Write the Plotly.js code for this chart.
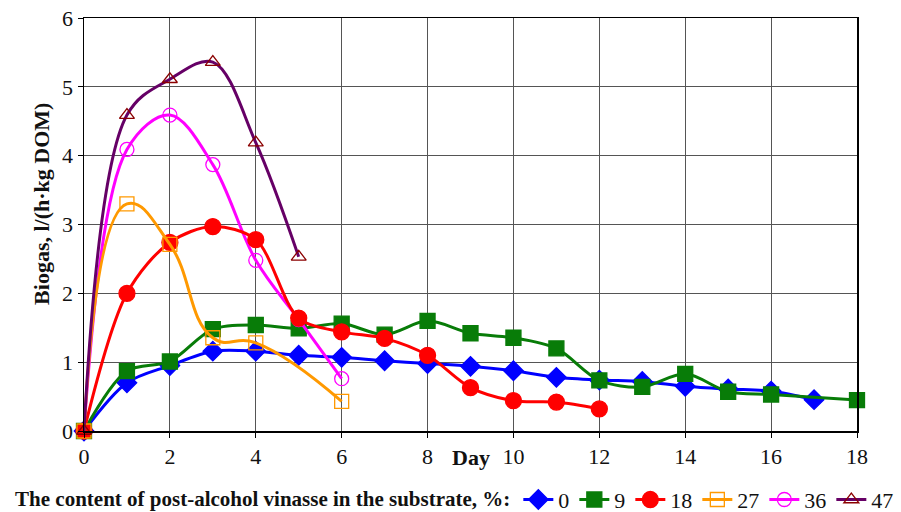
<!DOCTYPE html>
<html>
<head>
<meta charset="utf-8">
<script src="https://cdn.plot.ly/plotly-3.0.1.min.js"></script>
<style>html,body{margin:0;padding:0;background:#fff;}#chart{width:901px;height:512px;}</style>
</head>
<body>
<div id="chart"></div>
<script>
// Data
const days0  = [0,1,2,3,4,5,6,7,8,9,10,11,12,13,14,15,16,17];
const vals0  = [0,0.70,0.95,1.16,1.16,1.10,1.07,1.02,0.98,0.94,0.875,0.78,0.74,0.72,0.65,0.61,0.58,0.455];
const days9  = [0,1,2,3,4,5,6,7,8,9,10,11,12,13,14,15,16,18];
const vals9  = [0,0.87,1.01,1.48,1.54,1.49,1.56,1.40,1.60,1.42,1.355,1.20,0.735,0.64,0.83,0.57,0.53,0.45];
const days18 = [0,1,2,3,4,5,6,7,8,9,10,11,12];
const vals18 = [0,2.0,2.74,2.97,2.78,1.64,1.44,1.345,1.10,0.63,0.44,0.42,0.32];
const days27 = [0,1,2,3,4,6];
const vals27 = [0,3.30,2.71,1.355,1.28,0.43];
const days36 = [0,1,2,3,4,5,6];
const vals36 = [0,4.09,4.59,3.87,2.48,1.62,0.76];
const days47 = [0,1,2,3,4,5];
const vals47 = [0,4.59,5.11,5.36,4.19,2.53];
const seriesNames = ['0','9','18','27','36','47'];
const xTicks = [0,2,4,6,8,10,12,14,16,18];
const yTicks = [0,1,2,3,4,5,6];

const FONT = 'Liberation Serif, Times New Roman, serif';

function tr(x, y, name, rank, color, sym, size, mcolor, smooth) {
  return {
    x: x, y: y, name: name, legendrank: rank, type: 'scatter', mode: 'lines+markers',
    line: {color: color, width: 3, shape: 'spline', smoothing: smooth},
    marker: {symbol: sym, size: size, color: mcolor, line: {color: mcolor, width: 1.3}},
    cliponaxis: false
  };
}

// drawing order: magenta under red, orange over red, purple on top
const data = [
  tr(days0, vals0, seriesNames[0], 1, '#0000FF', 'diamond', 15, '#0000FF', 0.9),
  tr(days9, vals9, seriesNames[1], 2, '#087C08', 'square', 15, '#087C08', 0.9),
  tr(days36, vals36, seriesNames[4], 5, '#FF00FF', 'circle-open', 14, '#FF00FF', 1.0),
  tr(days18, vals18, seriesNames[2], 3, '#FF0000', 'circle', 16, '#FF0000', 0.9),
  tr(days27, vals27, seriesNames[3], 4, '#FF9900', 'square-open', 14, '#FF9900', 1.3),
  tr(days47, vals47, seriesNames[5], 6, '#660066', 'triangle-up-open', 13, '#8B0000', 1.0)
];

const layout = {
  width: 901, height: 512,
  margin: {l: 84, r: 44, t: 18, b: 81},
  paper_bgcolor: '#fff', plot_bgcolor: '#fff',
  font: {family: FONT, size: 22, color: '#111'},
  showlegend: true,
  xaxis: {
    range: [0, 18], tickvals: xTicks, ticktext: xTicks.map(String),
    showgrid: true, gridcolor: '#555', gridwidth: 1,
    showline: true, linecolor: '#000', linewidth: 1.5, mirror: true,
    ticks: 'outside', ticklen: 5, tickcolor: '#000',
    zeroline: false, tickfont: {family: FONT, size: 22, color: '#111'}
  },
  yaxis: {
    range: [0, 6], tickvals: yTicks, ticktext: yTicks.map(String),
    showgrid: true, gridcolor: '#555', gridwidth: 1,
    showline: true, linecolor: '#000', linewidth: 1.5, mirror: true,
    ticks: 'outside', ticklen: 5, tickcolor: '#000',
    zeroline: false, tickfont: {family: FONT, size: 22, color: '#111'}
  },
  legend: {
    orientation: 'h', x: 0.0145, xref: 'container', xanchor: 'left',
    y: 0.024, yref: 'container', yanchor: 'middle',
    itemwidth: 30, traceorder: 'normal',
    font: {family: FONT, size: 22, color: '#111'},
    title: {text: '<b>The content of post-alcohol vinasse in the substrate, %:</b>', side: 'left',
            font: {family: FONT, size: 21, color: '#111'}},
    bgcolor: 'rgba(0,0,0,0)', borderwidth: 0
  },
  annotations: [{
    text: '<b>Day</b>', x: 9, xref: 'x', y: -0.065, yref: 'paper',
    showarrow: false, xanchor: 'center', yanchor: 'middle',
    font: {family: FONT, size: 22, color: '#111'}
  }, {
    text: '<b>Biogas, l/(h·kg DOM)</b>', textangle: -90,
    x: -0.0543, xref: 'paper', y: 0.55, yref: 'paper',
    showarrow: false, xanchor: 'center', yanchor: 'middle',
    font: {family: FONT, size: 22, color: '#111'}
  }]
};

Plotly.newPlot('chart', data, layout, {displayModeBar: false, staticPlot: true});
</script>
</body>
</html>
